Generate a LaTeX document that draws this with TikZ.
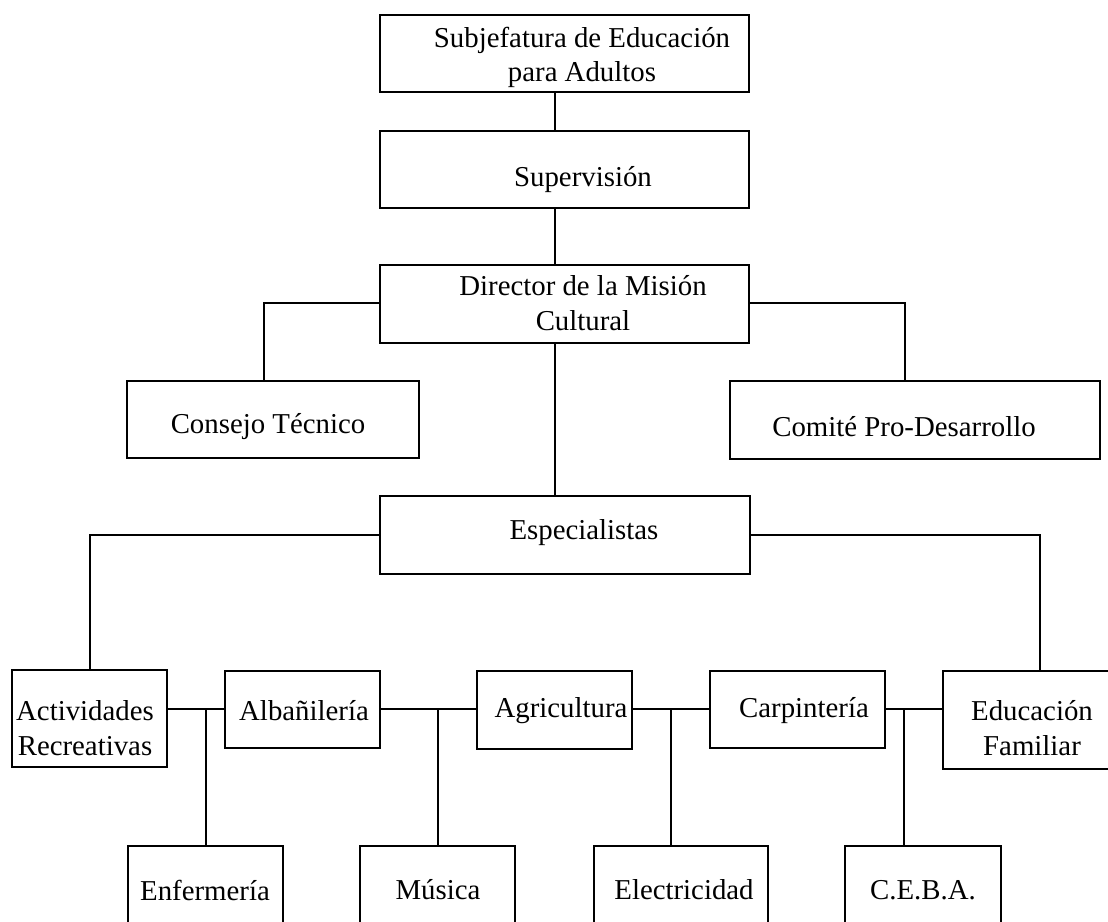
\documentclass[tikz,border=0pt]{standalone}
\usepackage{fontspec}
\setmainfont{Liberation Serif}
\usepackage{tikz}

\begin{document}
\begin{tikzpicture}[scale=0.2]
\tikzstyle{every node}+=[inner sep=0pt, outer sep=0pt, font=\fontsize{16.4}{19.8}\selectfont]
\tikzstyle{box}=[draw=black, line width=0.9pt, rectangle]
\tikzstyle{tag}=[align=center]
\tikzstyle{link}=[black, line width=0.8pt]
\useasboundingbox (0,0) rectangle (110.8,-92.2);
\clip (0,0) rectangle (110.8,-92.2);
\node [box, minimum width=7.38cm, minimum height=1.54cm] (sub) at (56.45,-5.35) {};
\node [tag] (sub-t) at (58.2,-5.75) {Subjefatura de Educación\\para Adultos};
\node [box, minimum width=7.38cm, minimum height=1.54cm] (sup) at (56.45,-16.95) {};
\node [tag] (sup-t) at (58.3,-18.0) {Supervisión};
\node [box, minimum width=7.38cm, minimum height=1.56cm] (dir) at (56.45,-30.4) {};
\node [tag] (dir-t) at (58.3,-30.35) {Director de la Misión\\Cultural};
\node [box, minimum width=5.84cm, minimum height=1.54cm] (cons) at (27.3,-41.95) {};
\node [tag] (cons-t) at (26.8,-42.7) {Consejo Técnico};
\node [box, minimum width=7.40cm, minimum height=1.56cm] (com) at (91.5,-42.0) {};
\node [tag] (com-t) at (90.4,-42.7) {Comité Pro-Desarrollo};
\node [box, minimum width=7.40cm, minimum height=1.56cm] (esp) at (56.5,-53.5) {};
\node [tag] (esp-t) at (58.4,-53.3) {Especialistas};
\node [box, minimum width=3.10cm, minimum height=1.94cm] (act) at (8.95,-71.85) {};
\node [tag] (act-t) at (8.5,-72.8) {Actividades\\Recreativas};
\node [box, minimum width=3.10cm, minimum height=1.54cm] (alb) at (30.25,-70.95) {};
\node [tag] (alb-t) at (30.4,-71.1) {Albañilería};
\node [box, minimum width=3.10cm, minimum height=1.56cm] (agr) at (55.45,-71.0) {};
\node [tag] (agr-t) at (56.1,-71.1) {Agricultura};
\node [box, minimum width=3.50cm, minimum height=1.54cm] (car) at (79.75,-70.95) {};
\node [tag] (car-t) at (80.4,-71.1) {Carpintería};
\node [box, minimum width=3.56cm, minimum height=1.96cm] (edu) at (103.2,-72.0) {};
\node [tag] (edu-t) at (103.2,-72.85) {Educación\\Familiar};
\node [box, minimum width=3.10cm, minimum height=1.66cm] (enf) at (20.55,-88.75) {};
\node [tag] (enf-t) at (20.5,-89.0) {Enfermería};
\node [box, minimum width=3.10cm, minimum height=1.66cm] (mus) at (43.75,-88.75) {};
\node [tag] (mus-t) at (43.8,-89.0) {Música};
\node [box, minimum width=3.48cm, minimum height=1.66cm] (ele) at (68.1,-88.75) {};
\node [tag] (ele-t) at (68.4,-89.0) {Electricidad};
\node [box, minimum width=3.12cm, minimum height=1.66cm] (ceba) at (92.3,-88.75) {};
\node [tag] (ceba-t) at (92.3,-89.0) {C.E.B.A.};
\coordinate (spine) at (55.5,0);
\coordinate (jc) at (26.4,-30.3);
\coordinate (jp) at (90.5,-30.3);
\coordinate (ja) at (9.0,-53.5);
\coordinate (je) at (104.0,-53.5);
\coordinate (r1) at (20.6,-70.9);
\coordinate (r2) at (43.8,-70.9);
\coordinate (r3) at (67.1,-70.9);
\coordinate (r4) at (90.4,-70.9);
\draw [link] (sub.south -| spine) -- (sup.north -| spine);
\draw [link] (sup.south -| spine) -- (dir.north -| spine);
\draw [link] (dir.south -| spine) -- (esp.north -| spine);
\draw [link] (dir.west |- jc) -- (jc) -- (cons.north -| jc);
\draw [link] (dir.east |- jp) -- (jp) -- (com.north -| jp);
\draw [link] (esp.west |- ja) -- (ja) -- (act.north -| ja);
\draw [link] (esp.east |- je) -- (je) -- (edu.north -| je);
\draw [link] (act.east |- r1) -- (alb.west |- r1);
\draw [link] (r1) -- (enf.north -| r1);
\draw [link] (alb.east |- r2) -- (agr.west |- r2);
\draw [link] (r2) -- (mus.north -| r2);
\draw [link] (agr.east |- r3) -- (car.west |- r3);
\draw [link] (r3) -- (ele.north -| r3);
\draw [link] (car.east |- r4) -- (edu.west |- r4);
\draw [link] (r4) -- (ceba.north -| r4);
\end{tikzpicture}
\end{document}
